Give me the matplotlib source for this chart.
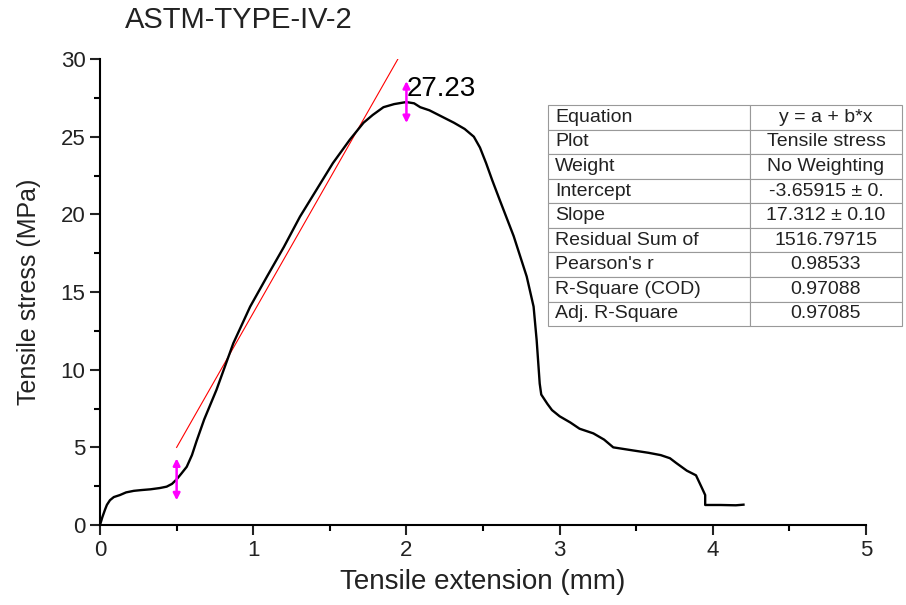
import numpy as np
import matplotlib.pyplot as plt

plt.rcParams['font.family'] = ['Liberation Sans', 'DejaVu Sans']

# stress-extension curve
ext = [0.0, 0.015, 0.033, 0.045, 0.065, 0.09, 0.13, 0.17, 0.22, 0.27, 0.33, 0.39,
       0.435, 0.47, 0.50, 0.53, 0.566, 0.60, 0.63, 0.68, 0.76, 0.87,
       0.98, 1.09, 1.20, 1.305, 1.414, 1.52, 1.63, 1.72, 1.78, 1.85, 1.92, 1.98,
       2.0, 2.05, 2.09, 2.15, 2.22, 2.31, 2.38, 2.44, 2.48, 2.52, 2.56, 2.61,
       2.70, 2.785, 2.83, 2.85, 2.86, 2.87, 2.88, 2.92, 2.95, 3.0, 3.07,
       3.13, 3.22, 3.29, 3.35, 3.48, 3.58, 3.66, 3.72, 3.76, 3.83, 3.89, 3.93,
       3.95, 3.95, 4.05, 4.15, 4.2]
stress = [0.0, 0.5, 1.0, 1.3, 1.6, 1.8, 1.93, 2.1, 2.2, 2.25, 2.3, 2.38,
          2.47, 2.65, 2.94, 3.3, 3.75, 4.5, 5.4, 6.8, 8.7, 11.7,
          14.06, 16.0, 17.9, 19.85, 21.6, 23.3, 24.8, 25.9, 26.4, 26.9, 27.1, 27.2,
          27.23, 27.15, 26.9, 26.7, 26.35, 25.9, 25.5, 25.0, 24.3, 23.3, 22.2, 20.9,
          18.6, 16.0, 14.06, 11.9, 10.5, 9.1, 8.4, 7.8, 7.4, 7.0, 6.6,
          6.2, 5.9, 5.5, 5.0, 4.8, 4.65, 4.5, 4.3, 4.0, 3.5, 3.2, 2.36,
          1.93, 1.29, 1.29, 1.27, 1.31]

# linear fit results
intercept = -3.65915
slope = 17.312
fit_range = [0.5, 1.95]

# data markers
mark_x = [0.5, 2.0]
mark_y = [2.94, 27.23]
peak_label = "27.23"

table_rows = [
    ["Equation", "y = a + b*x"],
    ["Plot", "Tensile stress"],
    ["Weight", "No Weighting"],
    ["Intercept", "-3.65915 \u00b1 0."],
    ["Slope", "17.312 \u00b1 0.10"],
    ["Residual Sum of", "1516.79715"],
    ["Pearson's r", "0.98533"],
    ["R-Square (COD)", "0.97088"],
    ["Adj. R-Square", "0.97085"],
]

fig = plt.figure(figsize=(9.06, 6.05), dpi=100)
ax = fig.add_axes([0.1104, 0.1322, 0.8455, 0.7702])

ax.plot(ext, stress, color='black', lw=1.7, zorder=3, solid_joinstyle='round')
fx = np.array(fit_range)
ax.plot(fx, intercept + slope * fx, color='red', lw=0.8, zorder=2)

for mx, my in zip(mark_x, mark_y):
    for d in (1.35, -1.35):
        ax.annotate('', xy=(mx, my + d), xytext=(mx, my),
                    arrowprops=dict(arrowstyle='-|>', color='magenta', lw=1.8,
                                    mutation_scale=10, shrinkA=0, shrinkB=0), zorder=4)

ax.text(mark_x[1], 28.1, peak_label, fontsize=20, ha='left', va='center')

ax.set_xlim(0, 5)
ax.set_ylim(0, 30)
ax.set_xticks([0, 1, 2, 3, 4, 5])
ax.set_xticks(np.arange(0.5, 5, 1), minor=True)
ax.set_yticks(np.arange(0, 31, 5))
ax.set_yticks(np.arange(2.5, 30, 5), minor=True)
ax.spines['top'].set_visible(False)
ax.spines['right'].set_visible(False)
for s in ['left', 'bottom']:
    ax.spines[s].set_linewidth(1.5)
ax.tick_params(which='major', direction='out', length=7, width=1.5, labelsize=16,
               colors='#222222')
ax.tick_params(which='minor', direction='out', length=4, width=1.5)
ax.set_xlabel('Tensile extension (mm)', fontsize=20, labelpad=6, color='#222222')
ax.set_ylabel('Tensile stress (MPa)', fontsize=18, labelpad=14, color='#222222')
fig.text(125 / 906, 1 - 20 / 605, 'ASTM-TYPE-IV-2', fontsize=21, ha='left', va='center',
         color='#222222')

tbl = ax.table(cellText=table_rows, colWidths=[0.57, 0.43],
               bbox=[0.585, 0.427, 0.462, 0.474], zorder=5)
tbl.auto_set_font_size(False)
tbl.set_fontsize(14)
tbl.set_clip_on(False)
for (r, c), cell in tbl.get_celld().items():
    cell.set_edgecolor('#999999')
    cell.set_linewidth(0.8)
    cell.set_clip_on(False)
    cell.get_text().set_color('#222222')
    if c == 0:
        cell.set_text_props(ha='left')
        cell.PAD = 0.035
    else:
        cell.set_text_props(ha='center')

fig.savefig('out.png', dpi=100)
